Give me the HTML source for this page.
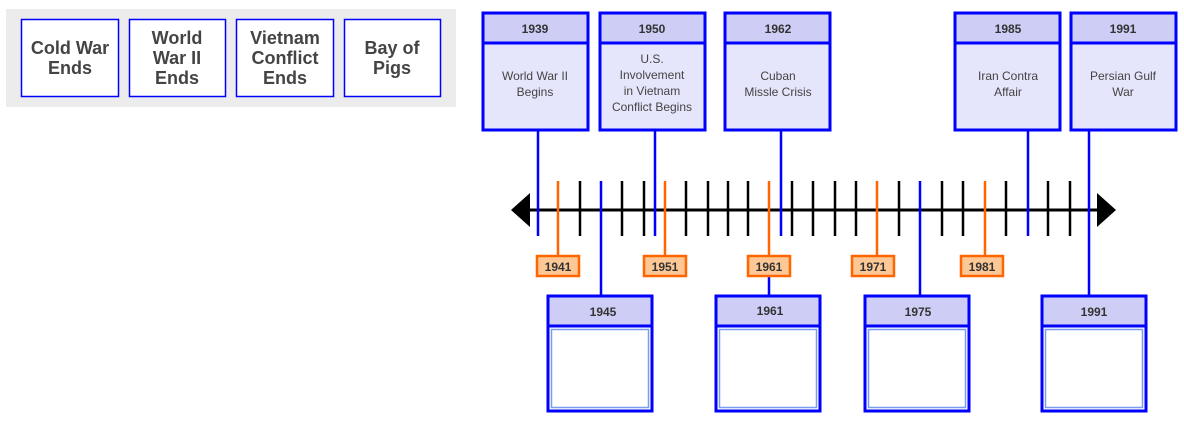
<!DOCTYPE html>
<html><head><meta charset="utf-8"><style>
html,body{margin:0;padding:0;background:#fff;}
svg{display:block;font-family:"Liberation Sans",Arial,sans-serif;}
</style></head><body>
<svg width="1184" height="422" viewBox="0 0 1184 422" xmlns="http://www.w3.org/2000/svg">
<rect x="0" y="0" width="1184" height="422" fill="#fff"/>
<rect x="6" y="9" width="450" height="98" fill="#ececec"/>
<g fill="#fff" stroke="#0000ff" stroke-width="1.5">
<rect x="21.5" y="19.5" width="97" height="77"/>
<rect x="129.5" y="19.5" width="96" height="77"/>
<rect x="236.5" y="19.5" width="97" height="77"/>
<rect x="344.5" y="19.5" width="96" height="77"/>
</g>
<g fill="#444" font-size="18" font-weight="bold" text-anchor="middle">
<text x="70" y="54">Cold War</text><text x="70" y="74">Ends</text>
<text x="177" y="44">World</text><text x="177" y="64">War II</text><text x="177" y="84">Ends</text>
<text x="285" y="44">Vietnam</text><text x="285" y="64">Conflict</text><text x="285" y="84">Ends</text>
<text x="392" y="54">Bay of</text><text x="392" y="74">Pigs</text>
</g>

<!-- timeline -->
<line x1="525" y1="210" x2="1102" y2="210" stroke="#000" stroke-width="3"/>
<polygon points="511,210 530,193 530,227" fill="#000"/>
<polygon points="1116,210 1097,193 1097,227" fill="#000"/>
<g stroke="#000" stroke-width="2.5">
<line x1="580" y1="181" x2="580" y2="236"/><line x1="622" y1="181" x2="622" y2="236"/>
<line x1="644" y1="181" x2="644" y2="236"/><line x1="686" y1="181" x2="686" y2="236"/>
<line x1="708" y1="181" x2="708" y2="236"/><line x1="728" y1="181" x2="728" y2="236"/>
<line x1="748" y1="181" x2="748" y2="236"/><line x1="792" y1="181" x2="792" y2="236"/>
<line x1="813" y1="181" x2="813" y2="236"/><line x1="835" y1="181" x2="835" y2="236"/>
<line x1="856" y1="181" x2="856" y2="236"/><line x1="899" y1="181" x2="899" y2="236"/>
<line x1="942" y1="181" x2="942" y2="236"/><line x1="963" y1="181" x2="963" y2="236"/>
<line x1="1006" y1="181" x2="1006" y2="236"/><line x1="1048" y1="181" x2="1048" y2="236"/>
<line x1="1070" y1="181" x2="1070" y2="236"/>
</g>
<g stroke="#ff6600" stroke-width="2.5">
<line x1="558" y1="181" x2="558" y2="257"/><line x1="665" y1="181" x2="665" y2="257"/>
<line x1="769" y1="181" x2="769" y2="257"/><line x1="877" y1="181" x2="877" y2="257"/>
<line x1="985" y1="181" x2="985" y2="257"/>
</g>
<g stroke="#0000ff" stroke-width="2.5">
<line x1="538" y1="130" x2="538" y2="236"/><line x1="655" y1="130" x2="655" y2="236"/>
<line x1="781" y1="130" x2="781" y2="236"/><line x1="1028" y1="130" x2="1028" y2="236"/>
<line x1="1089" y1="130" x2="1089" y2="296"/>
<line x1="601" y1="181" x2="601" y2="296"/><line x1="920" y1="181" x2="920" y2="296"/>
<line x1="769" y1="276" x2="769" y2="296"/>
</g>
<!-- orange labels -->
<g fill="#fdc896" stroke="#ff6600" stroke-width="2.5">
<rect x="537" y="256" width="42" height="20"/><rect x="644" y="256" width="42" height="20"/>
<rect x="748" y="256" width="42" height="20"/><rect x="852" y="256" width="42" height="20"/>
<rect x="961" y="256" width="42" height="20"/>
</g>
<g fill="#333" font-size="12" font-weight="bold" text-anchor="middle">
<text x="558" y="271">1941</text><text x="665" y="271">1951</text><text x="769" y="271">1961</text>
<text x="873" y="271">1971</text><text x="982" y="271">1981</text>
</g>

<!-- top boxes -->
<g stroke="#0000ff" stroke-width="3">
<rect x="483" y="13" width="105" height="117" fill="#e5e5fb"/><rect x="483" y="13" width="105" height="30" fill="#cdcdf5"/>
<rect x="600" y="13" width="105" height="117" fill="#e5e5fb"/><rect x="600" y="13" width="105" height="30" fill="#cdcdf5"/>
<rect x="725" y="13" width="105" height="117" fill="#e5e5fb"/><rect x="725" y="13" width="105" height="30" fill="#cdcdf5"/>
<rect x="955" y="13" width="105" height="117" fill="#e5e5fb"/><rect x="955" y="13" width="105" height="30" fill="#cdcdf5"/>
<rect x="1071" y="13" width="105" height="117" fill="#e5e5fb"/><rect x="1071" y="13" width="105" height="30" fill="#cdcdf5"/>
</g>
<g fill="#333" font-size="12" font-weight="bold" text-anchor="middle">
<text x="535" y="33">1939</text><text x="652" y="33">1950</text><text x="778" y="33">1962</text>
<text x="1008" y="33">1985</text><text x="1123" y="33">1991</text>
</g>
<g fill="#444" font-size="12" text-anchor="middle">
<text x="535" y="80">World War II</text><text x="535" y="96">Begins</text>
<text x="652" y="63">U.S.</text><text x="652" y="79">Involvement</text><text x="652" y="95">in Vietnam</text><text x="652" y="111">Conflict Begins</text>
<text x="778" y="80">Cuban</text><text x="778" y="96">Missle Crisis</text>
<text x="1008" y="80">Iran Contra</text><text x="1008" y="96">Affair</text>
<text x="1123" y="80">Persian Gulf</text><text x="1123" y="96">War</text>
</g>

<!-- bottom boxes -->
<g stroke="#0000ff" stroke-width="3">
<rect x="548" y="296" width="104" height="115" fill="#fff"/><rect x="548" y="296" width="104" height="30" fill="#cdcdf5"/>
<rect x="716" y="296" width="104" height="115" fill="#fff"/><rect x="716" y="296" width="104" height="30" fill="#cdcdf5"/>
<rect x="865" y="296" width="104" height="115" fill="#fff"/><rect x="865" y="296" width="104" height="30" fill="#cdcdf5"/>
<rect x="1042" y="296" width="104" height="115" fill="#fff"/><rect x="1042" y="296" width="104" height="30" fill="#cdcdf5"/>
</g>
<g fill="none" stroke="#7a9cf0" stroke-width="1.5">
<rect x="551.5" y="329.5" width="97" height="78"/><rect x="719.5" y="329.5" width="97" height="78"/>
<rect x="868.5" y="329.5" width="97" height="78"/><rect x="1045.5" y="329.5" width="97" height="78"/>
</g>
<g fill="#333" font-size="12" font-weight="bold" text-anchor="middle">
<text x="603" y="316">1945</text><text x="770" y="315">1961</text><text x="918" y="316">1975</text><text x="1094" y="316">1991</text>
</g>
</svg>
</body></html>
